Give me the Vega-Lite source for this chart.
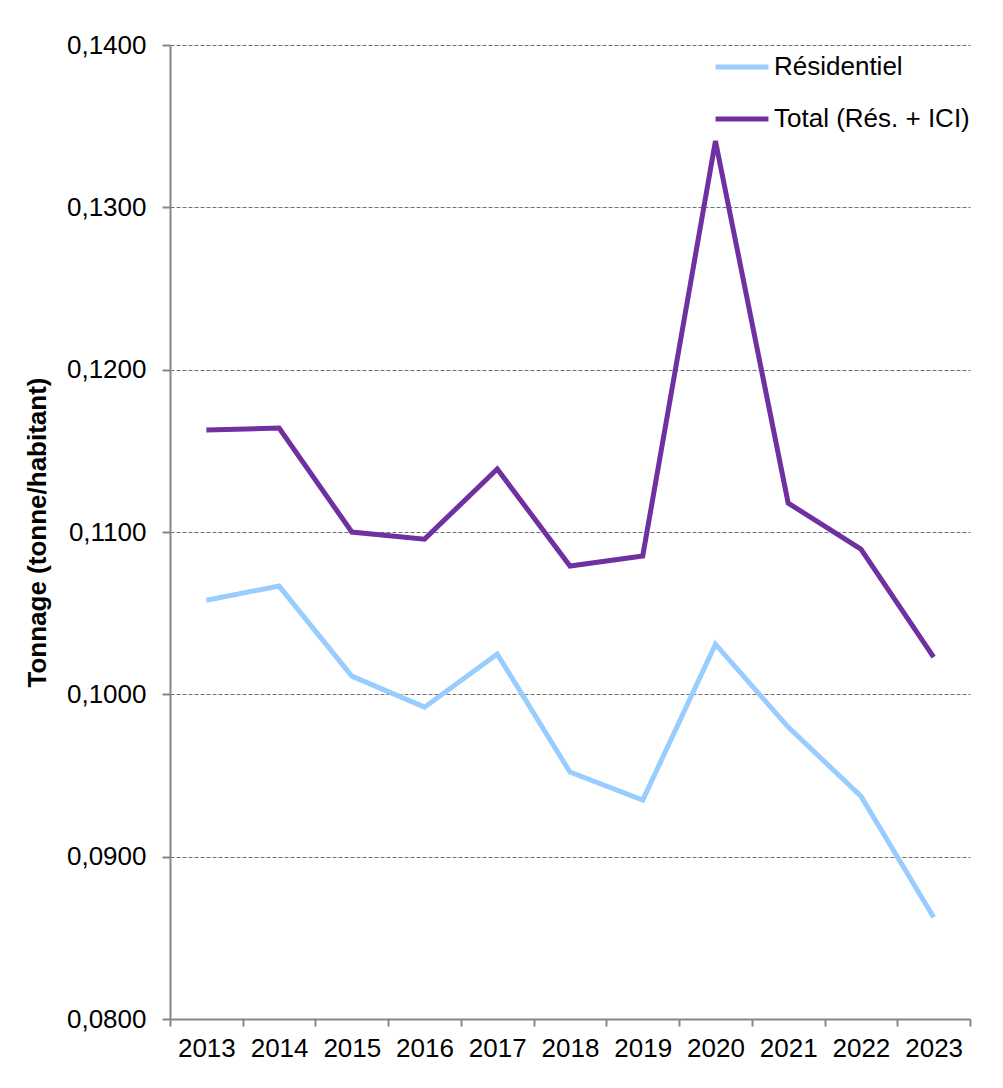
{
  "$schema": "https://vega.github.io/schema/vega-lite/v6.json",
  "width": 800,
  "height": 974,
  "autosize": {"type": "none"},
  "padding": {"left": 170, "top": 45, "right": 33, "bottom": 69},
  "background": "white",
  "config": {
    "view": {"stroke": null},
    "font": "Liberation Sans",
    "axis": {"labelFont": "Liberation Sans", "titleFont": "Liberation Sans"},
    "legend": {"labelFont": "Liberation Sans"}
  },
  "data": {
    "values": [
      {"year": "2013", "series": "Résidentiel", "value": 0.1058},
      {"year": "2014", "series": "Résidentiel", "value": 0.10667},
      {"year": "2015", "series": "Résidentiel", "value": 0.10112},
      {"year": "2016", "series": "Résidentiel", "value": 0.09921},
      {"year": "2017", "series": "Résidentiel", "value": 0.10248},
      {"year": "2018", "series": "Résidentiel", "value": 0.09521},
      {"year": "2019", "series": "Résidentiel", "value": 0.09348},
      {"year": "2020", "series": "Résidentiel", "value": 0.10309},
      {"year": "2021", "series": "Résidentiel", "value": 0.09798},
      {"year": "2022", "series": "Résidentiel", "value": 0.09373},
      {"year": "2023", "series": "Résidentiel", "value": 0.08627},
      {"year": "2013", "series": "Total (Rés. + ICI)", "value": 0.11628},
      {"year": "2014", "series": "Total (Rés. + ICI)", "value": 0.1164},
      {"year": "2015", "series": "Total (Rés. + ICI)", "value": 0.11},
      {"year": "2016", "series": "Total (Rés. + ICI)", "value": 0.10956},
      {"year": "2017", "series": "Total (Rés. + ICI)", "value": 0.11388},
      {"year": "2018", "series": "Total (Rés. + ICI)", "value": 0.1079},
      {"year": "2019", "series": "Total (Rés. + ICI)", "value": 0.10852},
      {"year": "2020", "series": "Total (Rés. + ICI)", "value": 0.13409},
      {"year": "2021", "series": "Total (Rés. + ICI)", "value": 0.11178},
      {"year": "2022", "series": "Total (Rés. + ICI)", "value": 0.10895},
      {"year": "2023", "series": "Total (Rés. + ICI)", "value": 0.10229}
    ]
  },
  "mark": {"type": "line", "strokeWidth": 5},
  "encoding": {
    "x": {
      "field": "year",
      "type": "ordinal",
      "bandPosition": 0.5,
      "scale": {"type": "band", "paddingInner": 0, "paddingOuter": 0},
      "axis": {
        "title": null,
        "labelAngle": 0,
        "labelFontSize": 26,
        "labelColor": "black",
        "labelPadding": 9,
        "tickBand": "extent",
        "tickSize": 7,
        "tickColor": "#868686",
        "tickWidth": 2,
        "domainColor": "#868686",
        "domainWidth": 2,
        "grid": false
      }
    },
    "y": {
      "field": "value",
      "type": "quantitative",
      "scale": {"domain": [0.08, 0.14], "zero": false, "nice": false},
      "axis": {
        "title": "Tonnage (tonne/habitant)",
        "titleFontSize": 26,
        "titleFontWeight": "bold",
        "titleColor": "black",
        "titlePadding": 16,
        "values": [0.08, 0.09, 0.1, 0.11, 0.12, 0.13, 0.14],
        "labelExpr": "replace(format(datum.value, '.4f'), '.', ',')",
        "labelFontSize": 26,
        "labelColor": "black",
        "labelPadding": 16,
        "tickSize": 8,
        "tickColor": "#868686",
        "tickWidth": 2,
        "domainColor": "#868686",
        "domainWidth": 2,
        "grid": true,
        "gridColor": "#707070",
        "gridWidth": 1,
        "gridDash": [4, 2]
      }
    },
    "color": {
      "field": "series",
      "type": "nominal",
      "scale": {"domain": ["Résidentiel", "Total (Rés. + ICI)"], "range": ["#99CCFF", "#7030A0"]},
      "legend": {
        "title": null,
        "orient": "none",
        "legendX": 543,
        "legendY": -7,
        "symbolType": "stroke",
        "symbolSize": 2800,
        "symbolStrokeWidth": 5,
        "labelFontSize": 26,
        "labelColor": "black",
        "labelOffset": 3,
        "labelLimit": 0,
        "rowPadding": 10
      }
    }
  }
}
